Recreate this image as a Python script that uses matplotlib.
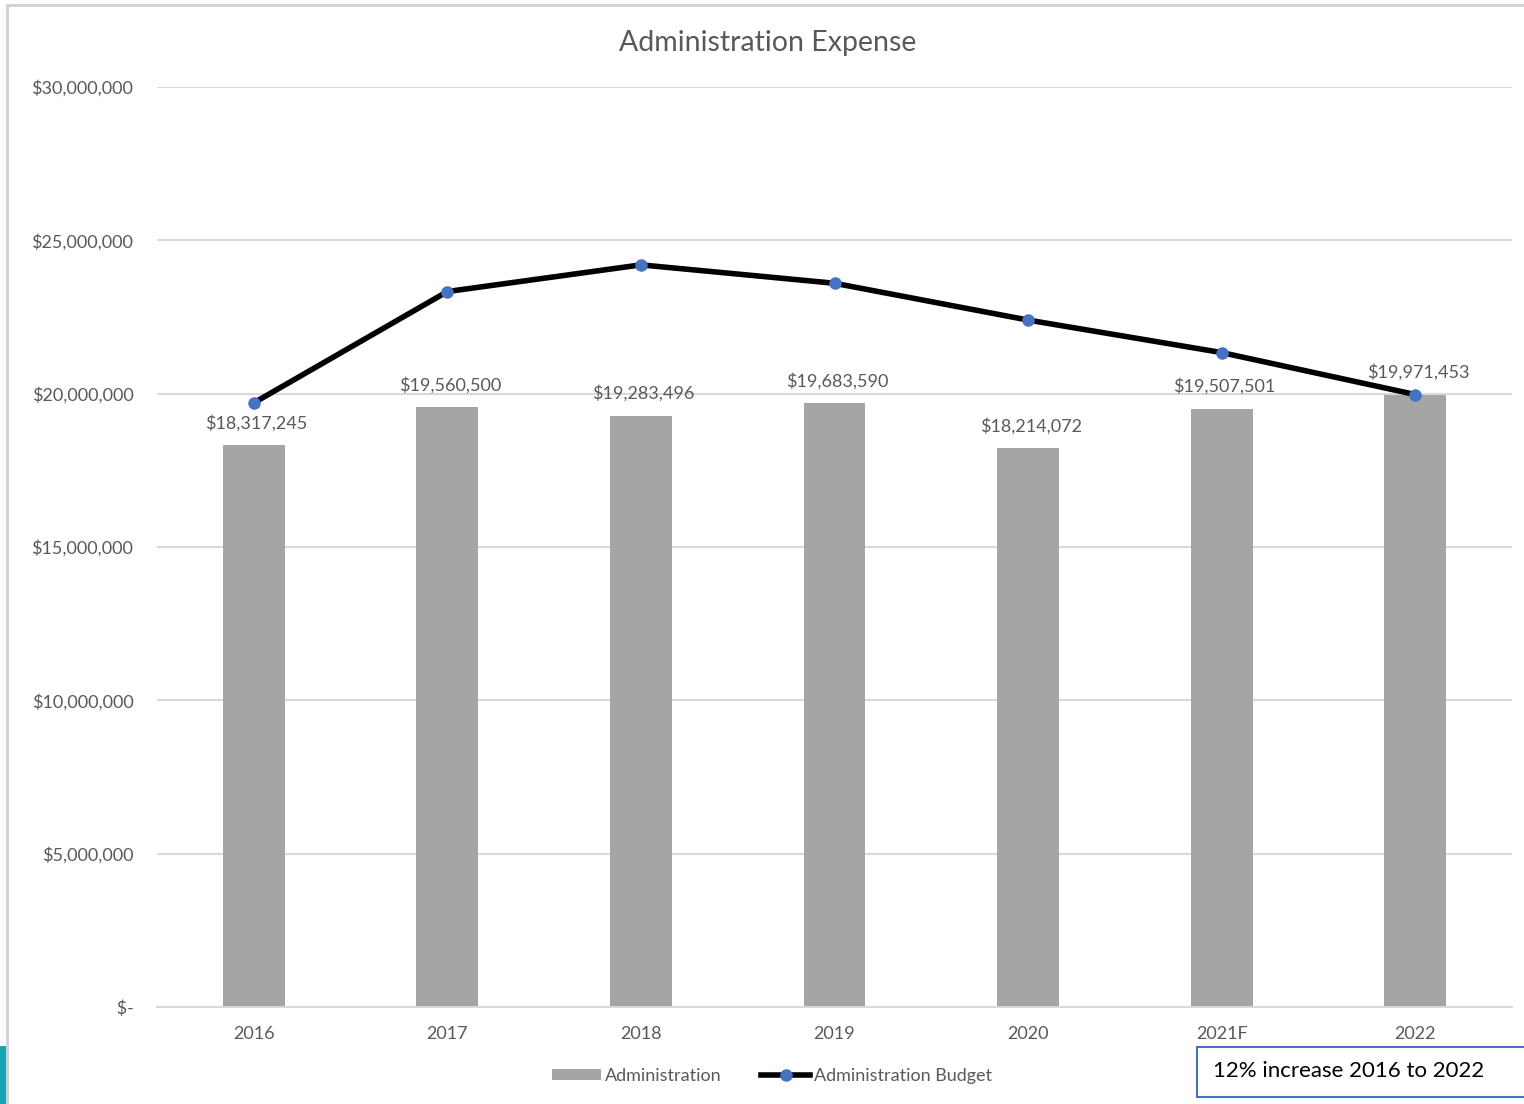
import matplotlib.pyplot as plt
from matplotlib.patches import Rectangle
from matplotlib.ticker import FuncFormatter
import numpy as np

years = ['2016', '2017', '2018', '2019', '2020', '2021F', '2022']
admin = [18317245, 19560500, 19283496, 19683590, 18214072, 19507501, 19971453]
budget = [19700000, 23330000, 24200000, 23600000, 22400000, 21340000, 19971453]

plt.rcParams['font.family'] = ['Lato', 'DejaVu Sans']
txt = '#595959'
grid = '#D9D9D9'

fig = plt.figure(figsize=(15.24, 11.04), dpi=100)
ax = fig.add_axes([157/1524, 1 - 1007/1104, (1512 - 157)/1524, (1007 - 87)/1104])

x = np.arange(len(years))
bars = ax.bar(x, admin, width=0.32, color='#A5A5A5', zorder=2, label='Administration')
line, = ax.plot(x, budget, color='black', lw=4, marker='o', ms=8, mfc='#4472C4', mec='#4472C4',
                zorder=3, label='Administration Budget')

for xi, v in zip(x, admin):
    ax.annotate(f'${v:,.0f}', (xi, v), xytext=(2, 16), textcoords='offset points',
                ha='center', va='center', fontsize=13, color=txt)

ax.set_xlim(-0.5, 6.5)
ax.set_ylim(0, 30000000)
ax.set_yticks(np.arange(0, 30000001, 5000000))
ax.yaxis.set_major_formatter(FuncFormatter(lambda v, p: ' $-' if v == 0 else f'${v:,.0f}'))
ax.set_xticks(x)
ax.set_xticklabels(years)
ax.tick_params(length=0, labelsize=13, labelcolor=txt)
ax.tick_params(axis='y', pad=17)
ax.tick_params(axis='x', pad=14)
ax.grid(axis='y', color=grid, lw=1.5, zorder=0)
for s in ['top', 'right', 'left']:
    ax.spines[s].set_visible(False)
ax.spines['bottom'].set_color(grid)
ax.spines['bottom'].set_linewidth(1.5)

fig.text(768/1524, 1 - 43/1104, 'Administration Expense', ha='center', va='center',
         fontsize=20.5, color=txt)

leg = fig.legend([bars, line], ['Administration', 'Administration Budget'], loc='center',
                 bbox_to_anchor=(772/1524, 1 - 1076/1104), ncol=2,
                 frameon=False, fontsize=13, handlelength=2.7, handleheight=0.5,
                 handletextpad=0.2, columnspacing=2.2)
for t in leg.get_texts():
    t.set_color(txt)

# outer chart border
fig.patches.append(Rectangle((7/1524, -0.1), 1.2, 1 - 5/1104 + 0.1, transform=fig.transFigure,
                             fill=False, ec='#D0D0D0', lw=2, zorder=0))

# note box
fig.patches.append(Rectangle((1197/1524, 1 - 1097/1104), 0.3, 50/1104, transform=fig.transFigure,
                             fc='white', ec='#4472C4', lw=1.5, zorder=5))
fig.text(1213/1524, 1 - 1071/1104, '12% increase 2016 to 2022', ha='left', va='center',
         fontsize=16, color='black', zorder=6)

# strip of the slide behind
fig.patches.append(Rectangle((0, 0), 6/1524, 58/1104, transform=fig.transFigure,
                             fc='#17A6B6', ec='none', zorder=1))

fig.savefig('out.png', dpi=100)
